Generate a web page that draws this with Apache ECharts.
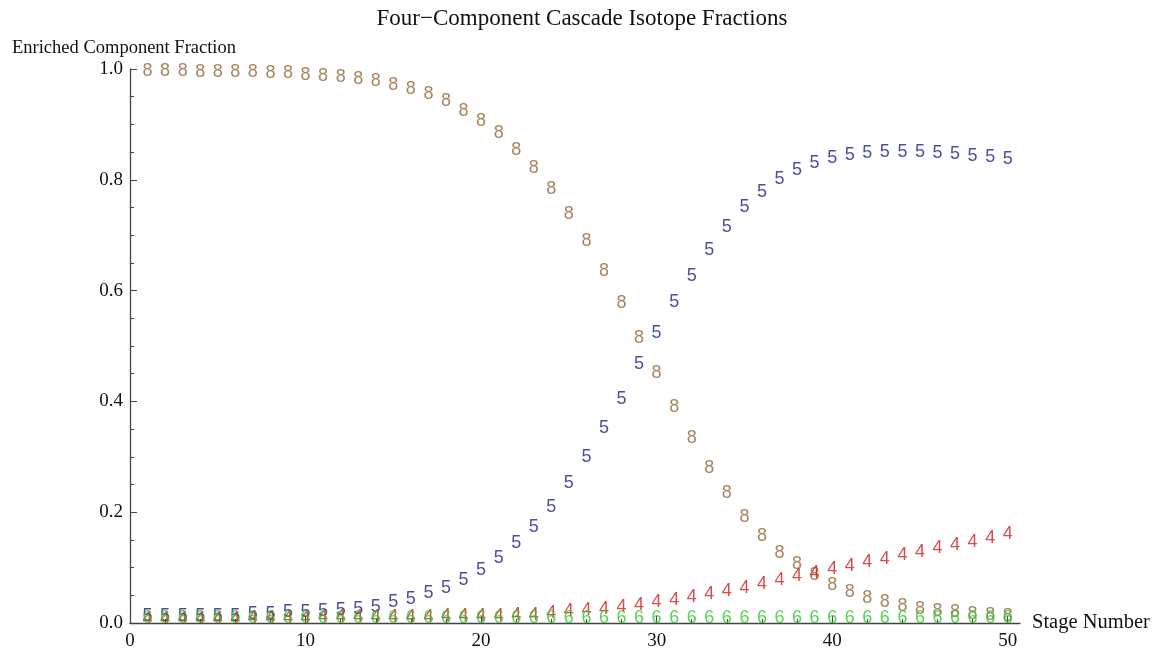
<!DOCTYPE html>
<html>
<head>
<meta charset="utf-8">
<script src="https://cdn.jsdelivr.net/npm/echarts@6/dist/echarts.min.js"></script>
<style>
  html, body { margin: 0; padding: 0; background: #fff; }
  #chart { width: 1164px; height: 653px; }
</style>
</head>
<body>
<div id="chart"></div>
<script>
// stage numbers 1..50
var stages = [1, 2, 3, 4, 5, 6, 7, 8, 9, 10, 11, 12, 13, 14, 15, 16, 17, 18, 19, 20,
  21, 22, 23, 24, 25, 26, 27, 28, 29, 30, 31, 32, 33, 34, 35, 36, 37, 38, 39, 40,
  41, 42, 43, 44, 45, 46, 47, 48, 49, 50];

// component fractions, one value per stage
var frac8 = [0.997, 0.996, 0.996, 0.995, 0.995, 0.995, 0.994, 0.992, 0.992, 0.990,
  0.988, 0.985, 0.982, 0.978, 0.971, 0.964, 0.955, 0.942, 0.925, 0.906,
  0.884, 0.854, 0.822, 0.783, 0.738, 0.690, 0.635, 0.577, 0.515, 0.452,
  0.389, 0.334, 0.280, 0.234, 0.192, 0.157, 0.127, 0.106, 0.086, 0.068,
  0.056, 0.045, 0.038, 0.031, 0.026, 0.022, 0.019, 0.017, 0.014, 0.012];
var frac5 = [0.012, 0.012, 0.012, 0.012, 0.012, 0.013, 0.016, 0.016, 0.019, 0.019,
  0.021, 0.024, 0.025, 0.029, 0.037, 0.043, 0.054, 0.063, 0.078, 0.095,
  0.117, 0.144, 0.174, 0.210, 0.252, 0.300, 0.352, 0.405, 0.467, 0.523,
  0.579, 0.627, 0.674, 0.714, 0.751, 0.778, 0.801, 0.818, 0.831, 0.840,
  0.844, 0.848, 0.850, 0.850, 0.850, 0.848, 0.846, 0.843, 0.841, 0.837];
var frac4 = [0.008, 0.008, 0.008, 0.008, 0.008, 0.008, 0.009, 0.009, 0.009, 0.009,
  0.010, 0.010, 0.010, 0.011, 0.011, 0.011, 0.011, 0.012, 0.012, 0.012,
  0.013, 0.014, 0.015, 0.018, 0.021, 0.023, 0.025, 0.028, 0.033, 0.037,
  0.041, 0.046, 0.052, 0.058, 0.064, 0.071, 0.077, 0.084, 0.090, 0.097,
  0.103, 0.110, 0.116, 0.123, 0.128, 0.135, 0.141, 0.147, 0.154, 0.160];
var frac6 = [0.009, 0.009, 0.009, 0.009, 0.009, 0.009, 0.009, 0.009, 0.009, 0.009,
  0.009, 0.009, 0.009, 0.009, 0.009, 0.009, 0.009, 0.009, 0.009, 0.009,
  0.009, 0.009, 0.009, 0.009, 0.009, 0.009, 0.009, 0.009, 0.009, 0.009,
  0.009, 0.009, 0.009, 0.009, 0.009, 0.009, 0.009, 0.009, 0.009, 0.009,
  0.009, 0.009, 0.009, 0.009, 0.009, 0.009, 0.009, 0.009, 0.009, 0.009];

// axis ticks
var xMajor = [0, 10, 20, 30, 40, 50];
var xMinor = [2, 4, 6, 8, 12, 14, 16, 18, 22, 24, 26, 28, 32, 34, 36, 38, 42, 44, 46, 48];

var serif = '"Liberation Serif", "Times New Roman", serif';
var markFont = '"Liberation Sans", Arial, sans-serif';

function pairs(vals) {
  return stages.map(function(s, i) {
    return [s, vals[i]];
  });
}

function markerSeries(name, vals, glyph, color) {
  return {
    name: name,
    type: 'scatter',
    symbol: 'circle',
    symbolSize: 1,
    itemStyle: { color: 'rgba(0,0,0,0)' },
    silent: true,
    label: {
      show: true,
      position: 'inside',
      formatter: glyph,
      color: color,
      fontFamily: markFont,
      fontSize: 18,
    },
    data: pairs(vals),
  };
}

var chart = echarts.init(document.getElementById('chart'));

var option = {
  animation: false,
  backgroundColor: '#fff',
  title: [
    {
      text: 'Four\u2212Component Cascade Isotope Fractions',
      left: 'center',
      top: 2,
      textStyle: { fontFamily: serif, fontSize: 23, fontWeight: 'normal', color: '#111' },
    },
    {
      text: 'Enriched Component Fraction',
      left: 7,
      top: 34,
      textStyle: { fontFamily: serif, fontSize: 18.5, fontWeight: 'normal', color: '#111' },
    },
  ],
  grid: { left: 130, right: 144, top: 69, bottom: 30 },
  xAxis: [
    {
      type: 'value',
      min: 0,
      max: 50.7,
      name: 'Stage Number',
      nameLocation: 'end',
      nameGap: 12,
      nameTextStyle: { fontFamily: serif, fontSize: 20.5, color: '#111' },
      axisLine: { show: true, onZero: false, lineStyle: { color: '#444', width: 1.3 } },
      axisTick: { show: true, inside: true, length: 7, customValues: xMajor, lineStyle: { color: '#444' } },
      axisLabel: {
        customValues: xMajor,
        fontFamily: serif,
        fontSize: 19,
        color: '#111',
        margin: 9,
      },
      splitLine: { show: false },
    },
    {
      type: 'value',
      min: 0,
      max: 50.7,
      position: 'bottom',
      axisLine: { show: false },
      axisTick: { show: true, inside: true, length: 4, customValues: xMinor, lineStyle: { color: '#444' } },
      axisLabel: { show: false },
      splitLine: { show: false },
    },
  ],
  yAxis: {
    type: 'value',
    min: 0,
    max: 1,
    interval: 0.2,
    axisLine: { show: true, onZero: false, lineStyle: { color: '#444', width: 1.3 } },
    axisTick: { show: true, inside: true, length: 7, lineStyle: { color: '#444' } },
    minorTick: { show: true, splitNumber: 4, length: 4, lineStyle: { color: '#444' } },
    axisLabel: {
      fontFamily: serif,
      fontSize: 19,
      color: '#111',
      margin: 7,
      formatter: function(v) {
        return v.toFixed(1);
      },
    },
    splitLine: { show: false },
    minorSplitLine: { show: false },
  },
  series: [
    markerSeries('8', frac8, '8', '#8e6634'),
    markerSeries('5', frac5, '5', '#20208a'),
    markerSeries('4', frac4, '4', '#cc1f1f'),
    markerSeries('6', frac6, '6', '#2ec82e'),
  ],
};

chart.setOption(option);
</script>
</body>
</html>
